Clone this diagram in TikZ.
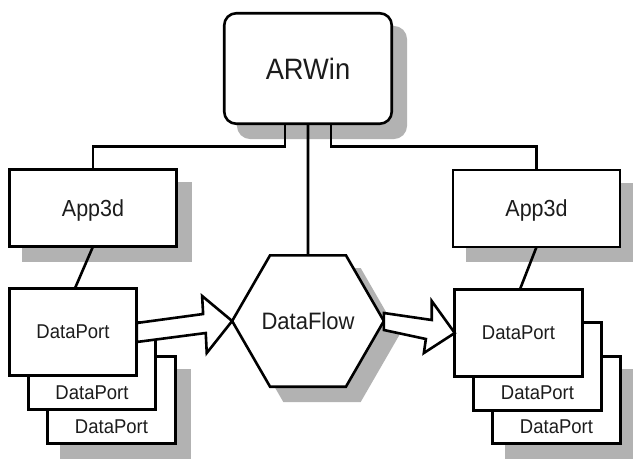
\documentclass[tikz,border=0pt]{standalone}
\usepackage{fontspec}
\setmainfont{Liberation Sans}
\usepackage{graphicx}
\usetikzlibrary{shapes.geometric,shadows,calc}
\definecolor{shd}{RGB}{178,178,178}
\definecolor{txt}{RGB}{28,28,28}
\newcommand{\vst}[1]{\scalebox{1}[1.08]{#1}}
\begin{document}
\begin{tikzpicture}[x=1pt,y=-1pt,
  base/.style={draw=black,line width=2.6pt,fill=white,text=txt,inner sep=0pt,outer sep=0pt,text depth=0pt},
  shad/.style={drop shadow={shadow xshift=14pt,shadow yshift=-14pt,fill=shd,draw=shd,line width=2.6pt,opacity=1}},
  appbox/.style={base,rectangle,minimum width=167pt,minimum height=77pt,font=\fontsize{21.5}{24}\selectfont},
  port/.style={base,rectangle,minimum width=127.5pt,minimum height=87.5pt,font=\fontsize{18.5}{22}\selectfont},
  lowtext/.style={text height=66pt},
  barrow/.style={draw=black,line width=2.6pt,fill=white,line join=miter},
  conn/.style={draw=black,line width=2.6pt}]
\useasboundingbox[fill=white] (0,0) rectangle (633,459);

% ARWin
\node[base,rectangle,rounded corners=12pt,shad,minimum width=167.5pt,minimum height=110.5pt,
      font=\fontsize{27.3}{30}\selectfont] (arwin) at (308,68.5) {\vst{ARWin}};

% App3d boxes
\node[appbox,shad] (app3dL) at (93,208) {\vst{App3d}};
\node[appbox,shad] (app3dR) at (536.5,208.5) {\vst{App3d}};

% left DataPort stack
\node[port,lowtext,shad] (dpL3) at (111.5,400) {\vst{DataPort}};
\node[port,lowtext] (dpL2) at (92,366) {\vst{DataPort}};
\node[port] (dpL1) at (73,332) {\vst{DataPort}};

% right DataPort stack
\node[port,lowtext,shad] (dpR3) at (556.5,400) {\vst{DataPort}};
\node[port,lowtext] (dpR2) at (537.5,366.5) {\vst{DataPort}};
\node[port] (dpR1) at (518.5,333) {\vst{DataPort}};

% DataFlow hexagon
\node[base,regular polygon,regular polygon sides=6,minimum size=147pt,shad,
      font=\fontsize{22}{26}\selectfont] (flow) at (308,321) {\vst{DataFlow}};

% block arrows
\draw[barrow] (flow.west) -- ++(-30,-25) -- ++(1,18) -- ($(dpL1.east)+(0,-9)$)
  -- ($(dpL1.east)+(0,10)$) -- ++(69,-9) -- ++(1,20) -- cycle;
\draw[barrow] (dpR1.west) -- ++(-23,-32) -- ++(0,19) -- ($(flow.east)+(0,-8)$)
  -- ($(flow.east)+(0,9)$) -- ++(42,9) -- ++(-2,14) -- cycle;

% connectors
\draw[conn] ([xshift=-23pt]arwin.south) -- ++(0,23) -| (app3dL.north);
\draw[conn] ([xshift=23pt]arwin.south) -- ++(0,23) -| (app3dR.north);
\draw[conn] (arwin.south) -- (flow.north);
\draw[conn] (app3dL.south) -- ([xshift=2pt]dpL1.north);
\draw[conn] (app3dR.south) -- ([xshift=1.5pt]dpR1.north);
\end{tikzpicture}
\end{document}
